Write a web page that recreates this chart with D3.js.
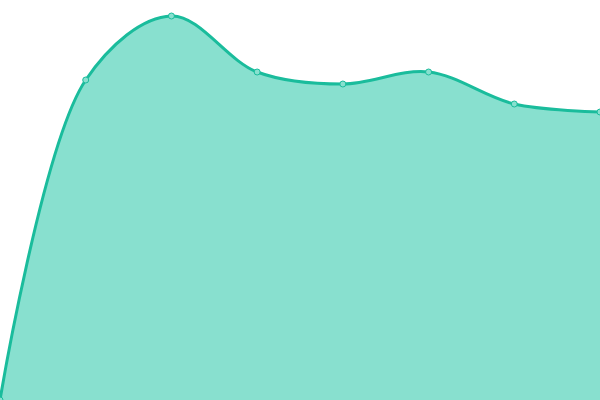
<!DOCTYPE html>
<html>
<head>
<meta charset="utf-8">
<script src="https://cdn.jsdelivr.net/npm/d3@7"></script>
<style>
  html, body { margin: 0; padding: 0; background: #fff; }
  svg { display: block; }
</style>
</head>
<body>
<svg id="chart"></svg>
<script>
const labels = ["1", "2", "3", "4", "5", "6", "7", "8"];
const values = [0, 80, 96, 82, 79, 82, 74, 72];

const width = 600;
const height = 400;

const svg = d3.select("#chart").attr("width", width).attr("height", height);

// x scale
const x = d3.scalePoint().domain(labels).range([0, width]);

// y scale
const y = d3.scaleLinear().domain([0, 100]).range([height, 0]);

const curve = d3.curveCatmullRom.alpha(0.5);

svg
  .append("path")
  .datum(values)
  .attr("fill", "#88e0cf")
  .attr(
    "d",
    d3.area()
      .x((d, i) => x(labels[i]))
      .y0(y(0))
      .y1((d) => y(d))
      .curve(curve)
  );

svg
  .append("path")
  .datum(values)
  .attr("fill", "none")
  .attr("stroke", "#1abc9c")
  .attr("stroke-width", 3)
  .attr(
    "d",
    d3.line()
      .x((d, i) => x(labels[i]))
      .y((d) => y(d))
      .curve(curve)
  );

// points
svg
  .append("g")
  .selectAll("circle")
  .data(values)
  .join("circle")
  .attr("cx", (d, i) => x(labels[i]))
  .attr("cy", (d) => y(d))
  .attr("r", 3)
  .attr("fill", "#88e0cf")
  .attr("stroke", "#1abc9c")
  .attr("stroke-width", 1);
</script>
</body>
</html>
